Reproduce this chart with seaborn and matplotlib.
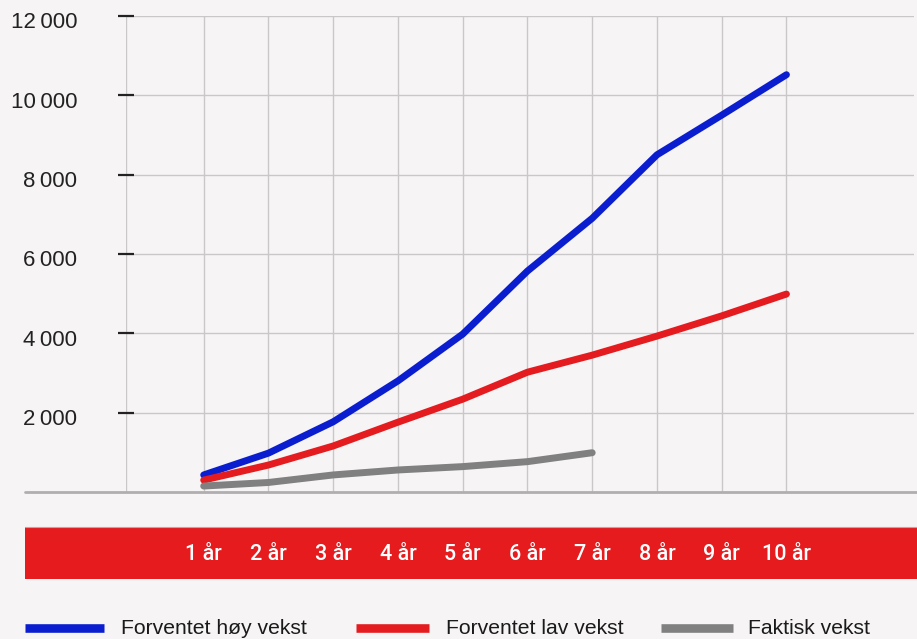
import numpy as np
import matplotlib
matplotlib.use("Agg")
import matplotlib.pyplot as plt
import matplotlib.transforms as mtransforms
import seaborn as sns
import pandas as pd
from matplotlib.lines import Line2D
from matplotlib.patches import Rectangle

# data
years = [1, 2, 3, 4, 5, 6, 7, 8, 9, 10]
year_labels = [str(y) + " år" for y in years]
high_growth = [430, 980, 1770, 2800, 3980, 5570, 6900, 8500, 9500, 10520]
low_growth = [300, 680, 1160, 1760, 2340, 3020, 3450, 3930, 4440, 4990]
actual_growth = [150, 240, 430, 555, 640, 765, 990]
series_names = ["Forventet høy vekst", "Forventet lav vekst", "Faktisk vekst"]
y_ticks = [2000, 4000, 6000, 8000, 10000, 12000]
y_tick_labels = ["2\u2009000", "4\u2009000", "6\u2009000", "8\u2009000", "10\u2009000", "12\u2009000"]

colors = ["#0a1ecf", "#e41c1f", "#808080"]
bg = "#f6f4f5"

sns.set_theme(style="white")
plt.rcParams["font.family"] = ["Liberation Sans", "DejaVu Sans"]

df = pd.concat([
    pd.DataFrame({"year": years, "value": high_growth, "serie": series_names[0]}),
    pd.DataFrame({"year": years, "value": low_growth, "serie": series_names[1]}),
    pd.DataFrame({"year": years[:len(actual_growth)], "value": actual_growth, "serie": series_names[2]}),
])

W, H = 917, 639
fig = plt.figure(figsize=(W / 100, H / 100), dpi=100, facecolor=bg)
ax = fig.add_axes([126 / W, 1 - 492 / H, (914 - 126) / W, (492 - 16) / H])
ax.set_facecolor(bg)

# grid
for x in [-0.2] + years:
    ax.axvline(x, color="#c9c7c8", lw=1.0, zorder=0)
for y in y_ticks:
    ax.axhline(y, color="#c9c7c8", lw=1.0, zorder=0)

sns.lineplot(data=df, x="year", y="value", hue="serie", palette=colors,
             hue_order=series_names, lw=5.0, legend=False, ax=ax,
             solid_capstyle="round", zorder=3)

ax.set_xlim(-0.2, 11.97)
ax.set_ylim(0, 12000)
for s in ax.spines.values():
    s.set_visible(False)
ax.set_xticks([])
ax.set_yticks(y_ticks)
ax.set_yticklabels(y_tick_labels)
ax.tick_params(axis="y", left=True, direction="inout", length=12, width=1.6, color="#222222",
               pad=29, labelsize=16, labelcolor="#222222")
shift = mtransforms.ScaledTranslation(0, -4.5 / 100, fig.dpi_scale_trans)
for lab in ax.get_yticklabels():
    lab.set_transform(lab.get_transform() + shift)
ax.set_xlabel("")
ax.set_ylabel("")

# baseline across the full width
fig.add_artist(Line2D([25 / W, 1], [1 - 492 / H] * 2, color="#b0aeaf", lw=2))

# red band with year labels
fig.add_artist(Rectangle((25 / W, 1 - 579 / H), 1 - 25 / W, 52 / H,
                         facecolor="#e51b1e", edgecolor="none"))
fig.add_artist(Line2D([25 / W, 1], [1 - 527 / H] * 2, color="#b8a8a8", lw=0.8))
for x, lab in zip(years, year_labels):
    fx = ax.transData.transform((x, 0))[0] / W
    fig.text(fx, 1 - 555 / H, lab, color="white", fontsize=15.5, fontweight="medium",
             family=["Roboto", "DejaVu Sans"], ha="center", va="center")

# legend
legend_pos = [(25, 104, 121), (356, 429, 446), (661, 733, 748)]
for (x0, x1, tx), name, c in zip(legend_pos, series_names, colors):
    fig.add_artist(Line2D([x0 / W, x1 / W], [1 - 628 / H] * 2, color=c, lw=6.2,
                          solid_capstyle="butt"))
    fig.text(tx / W, 1 - 629 / H, name, color="#1a1a1a", fontsize=15.2,
             ha="left", va="center")

fig.savefig("out.png", dpi=100, facecolor=bg)
